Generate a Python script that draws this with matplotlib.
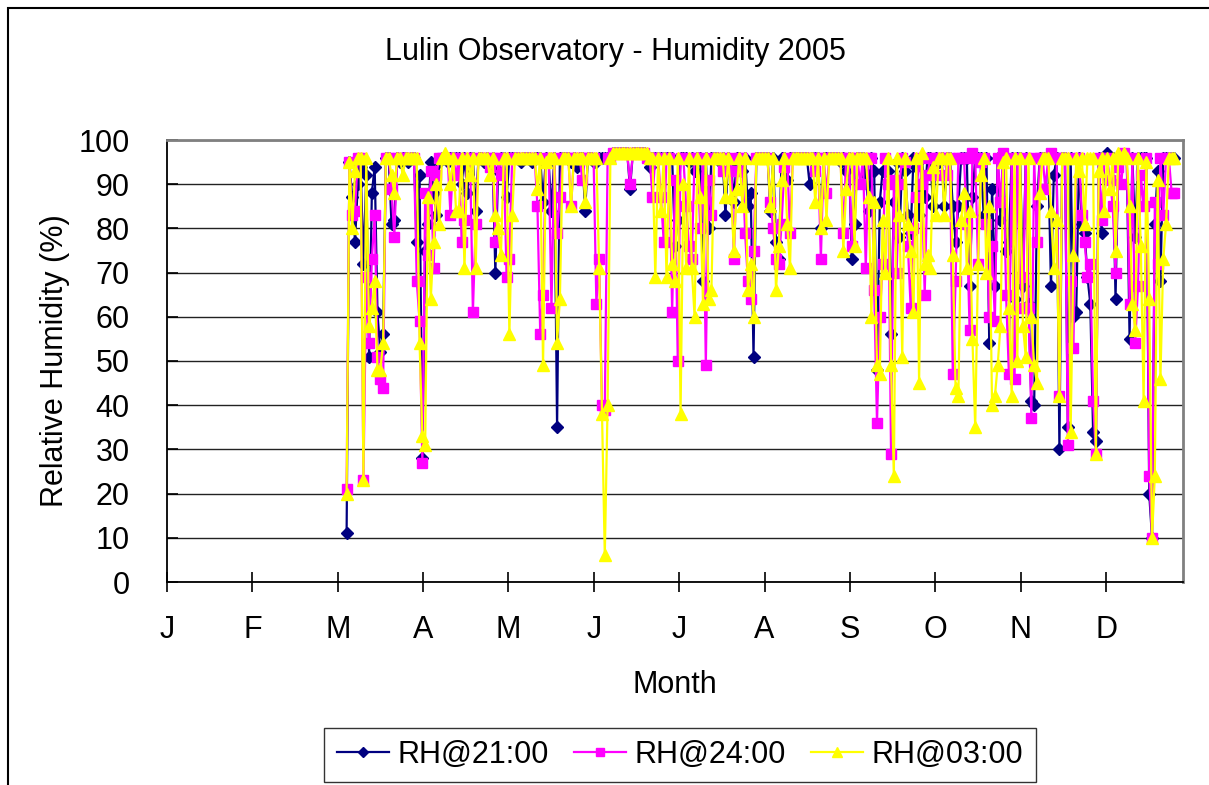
import numpy as np
import matplotlib
matplotlib.use("Agg")
import matplotlib.pyplot as plt
from matplotlib.lines import Line2D

# ---- data (daily values, first day index = 64 on a 0..~362 month-scaled axis) ----
start_day = 64
month_labels = ["J", "F", "M", "A", "M", "J", "J", "A", "S", "O", "N", "D"]

rh_2100 = [
    11, 95, 87, 77, 90, 94, 72, 92, 51, 88,
    94, 61, 52, 56, 96, 96, 81, 82, 96, 95,
    96, 96, 95, 96, 96, 77, 92, 28, 75, 81,
    95, 88, 83, 95, 96, 96, 95, 96, 96, 96,
    96, 90, 96, 88, 96, 96, 84, 96, 96, 95,
    96, 95, 96, 70, 93, 96, 96, 87, 96, 96,
    96, 96, 95, 96, 96, 96, 95, 96, 96, 96,
    86, 96, 95, 84, 96, 35, 96, 96, 96, 96,
    95, 96, 94, 96, 96, 84, 96, 96, 95, 95,
    96, 96, 96, 96, 96, 97, 97, 97, 97, 97,
    97, 89, 97, 97, 97, 97, 97, 96, 94, 96,
    96, 96, 96, 96, 96, 96, 96, 76, 82, 96,
    96, 96, 95, 96, 93, 96, 96, 68, 96, 80,
    96, 96, 96, 95, 96, 83, 96, 95, 86, 96,
    96, 93, 96, 85, 88, 51, 96, 96, 96, 96,
    96, 84, 96, 77, 73, 96, 96, 91, 96, 96,
    96, 96, 96, 96, 96, 90, 96, 96, 96, 80,
    96, 96, 96, 96, 96, 96, 95, 96, 93, 96,
    73, 81, 96, 96, 96, 92, 84, 96, 93, 48,
    86, 93, 93, 93, 56, 86, 95, 78, 96, 93,
    83, 79, 96, 94, 83, 96, 87, 96, 96, 85,
    96, 95, 96, 85, 96, 96, 85, 77, 85, 96,
    96, 96, 67, 87, 96, 96, 96, 83, 96, 54,
    89, 67, 96, 82, 96, 75, 77, 96, 64, 96,
    96, 67, 96, 63, 41, 40, 85, 96, 96, 96,
    96, 67, 92, 96, 30, 96, 96, 35, 96, 60,
    61, 96, 81, 79, 69, 63, 34, 32, 96, 79,
    96, 97, 96, 96, 64, 96, 96, 96, 96, 55,
    96, 78, 96, 96, 96, 96, 20, 10, 81, 93,
    68, 96, 96, 96, 96, 96,
]

rh_2400 = [
    21, 95, 83, 84, 96, 96, 23, 69, 54, 73,
    83, 51, 46, 44, 96, 96, 89, 78, 96, 96,
    96, 96, 96, 96, 96, 68, 59, 27, 88, 74,
    93, 71, 92, 96, 96, 96, 96, 83, 96, 92,
    96, 77, 82, 96, 96, 61, 81, 96, 96, 96,
    96, 94, 96, 77, 96, 92, 96, 69, 73, 96,
    96, 96, 96, 96, 96, 96, 96, 96, 85, 56,
    65, 96, 96, 62, 96, 79, 87, 96, 96, 96,
    85, 96, 96, 96, 91, 96, 96, 96, 96, 63,
    73, 40, 39, 96, 96, 97, 97, 97, 97, 97,
    97, 90, 97, 97, 97, 97, 97, 96, 96, 87,
    96, 96, 87, 77, 96, 96, 61, 91, 50, 96,
    96, 85, 76, 73, 96, 96, 80, 96, 49, 91,
    83, 96, 96, 96, 93, 96, 93, 96, 73, 93,
    96, 96, 79, 68, 64, 75, 96, 96, 96, 96,
    96, 86, 80, 73, 72, 81, 94, 96, 79, 96,
    96, 96, 96, 96, 96, 96, 96, 93, 96, 73,
    96, 88, 96, 96, 96, 96, 96, 79, 96, 96,
    76, 96, 96, 90, 96, 71, 96, 96, 66, 36,
    60, 72, 96, 90, 29, 91, 70, 90, 96, 95,
    76, 62, 80, 87, 96, 90, 65, 92, 96, 96,
    92, 96, 96, 96, 92, 96, 47, 68, 96, 96,
    96, 81, 57, 97, 96, 72, 95, 96, 81, 60,
    76, 59, 96, 86, 97, 65, 47, 96, 46, 96,
    69, 62, 96, 62, 37, 96, 77, 96, 96, 89,
    96, 97, 96, 96, 42, 96, 96, 31, 68, 53,
    96, 96, 83, 77, 69, 72, 41, 29, 96, 82,
    96, 96, 91, 85, 70, 94, 90, 97, 96, 63,
    96, 54, 67, 92, 85, 96, 24, 10, 86, 72,
    96, 83, 96, 96, 88, 88,
]

rh_0300 = [
    20, 95, 80, 93, 96, 96, 23, 96, 58, 62,
    68, 48, 48, 54, 96, 96, 92, 88, 96, 96,
    92, 96, 96, 96, 96, 96, 54, 33, 31, 87,
    64, 77, 90, 81, 96, 97, 96, 90, 96, 84,
    84, 96, 71, 96, 92, 96, 71, 96, 96, 96,
    96, 92, 96, 83, 80, 74, 96, 96, 56, 83,
    96, 96, 96, 96, 96, 96, 96, 96, 89, 96,
    49, 95, 96, 96, 96, 54, 64, 96, 96, 96,
    85, 96, 96, 96, 96, 86, 96, 96, 96, 96,
    71, 38, 6, 40, 96, 97, 97, 97, 97, 97,
    97, 97, 97, 97, 97, 97, 97, 97, 96, 96,
    69, 96, 84, 96, 69, 96, 72, 68, 96, 38,
    90, 71, 96, 71, 60, 96, 87, 63, 96, 64,
    66, 96, 96, 96, 96, 87, 96, 87, 75, 89,
    96, 85, 96, 66, 72, 60, 96, 96, 96, 96,
    96, 85, 96, 66, 76, 91, 96, 81, 71, 96,
    96, 96, 96, 96, 96, 96, 96, 86, 96, 80,
    96, 82, 96, 96, 96, 96, 96, 75, 89, 96,
    96, 76, 96, 96, 96, 96, 87, 60, 86, 49,
    47, 82, 70, 96, 49, 24, 96, 83, 51, 96,
    81, 75, 61, 96, 45, 97, 72, 74, 71, 94,
    83, 96, 96, 83, 96, 96, 74, 44, 42, 82,
    88, 71, 84, 55, 35, 72, 92, 96, 70, 85,
    40, 42, 49, 58, 95, 96, 62, 42, 96, 50,
    96, 58, 51, 96, 60, 49, 45, 88, 96, 96,
    96, 84, 71, 82, 42, 96, 96, 96, 34, 74,
    96, 93, 96, 81, 96, 96, 96, 29, 93, 96,
    84, 96, 89, 96, 75, 97, 96, 97, 96, 85,
    63, 57, 96, 76, 41, 95, 64, 10, 24, 91,
    46, 73, 81, 96, 96, 96,
]

series = [
    ("RH@21:00", rh_2100, "#000080", "D", 6.0),
    ("RH@24:00", rh_2400, "#FF00FF", "s", 6.5),
    ("RH@03:00", rh_0300, "#FFFF00", "^", 8.5),
]

# ---- figure ----
W, H = 1209, 785
fig = plt.figure(figsize=(W / 100, H / 100), dpi=100)
plt.rcParams["font.family"] = ["Liberation Sans", "DejaVu Sans"]
FS = 22

ax = fig.add_axes([167 / W, 1 - 582 / H, (1183 - 167) / W, (582 - 140) / H])

days_per_month = 30.42
for name, vals, col, mk, ms in series:
    x = np.arange(start_day, start_day + len(vals))
    ax.plot(x, vals, color=col, lw=1.6, marker=mk, ms=ms,
            markeredgecolor=col, markerfacecolor=col, label=name, zorder=3)

ax.set_xlim(0, 12 * days_per_month - 3)
ax.set_ylim(0, 100)
ax.set_yticks(np.arange(0, 101, 10))
ax.set_xticks(np.arange(len(month_labels)) * days_per_month)
ax.set_xticklabels(month_labels)
ax.tick_params(axis="y", direction="in", length=8, width=1.2, pad=27, labelsize=FS)
ax.tick_params(axis="x", direction="inout", length=14, width=1.2, pad=17, labelsize=FS)
ax.yaxis.grid(True, color="#222222", lw=1.0)
ax.set_axisbelow(True)
for s in ["left", "bottom"]:
    ax.spines[s].set_color("black")
    ax.spines[s].set_linewidth(1.3)
for s in ["top", "right"]:
    ax.spines[s].set_color("#808080")
    ax.spines[s].set_linewidth(2.0)

ax.set_xlabel("Month", fontsize=FS, labelpad=18)
ax.set_ylabel("Relative Humidity (%)", fontsize=FS, labelpad=6)

fig.text(615 / W, 1 - 52 / H, "Lulin Observatory - Humidity 2005",
         ha="center", va="center", fontsize=FS)

handles = [Line2D([0], [0], color=c, lw=1.6, marker=m, ms=ms * 0.8,
                  markeredgecolor=c, markerfacecolor=c)
           for _, _, c, m, ms in series]
leg = fig.legend(handles, [s[0] for s in series], loc="center",
                 bbox_to_anchor=(680 / W, 1 - 755 / H), ncol=3,
                 fontsize=FS, frameon=True, fancybox=False, shadow=False,
                 handlelength=1.7, handletextpad=0.3, columnspacing=0.8,
                 borderpad=0.4, borderaxespad=0)
leg.get_frame().set_edgecolor("black")
leg.get_frame().set_linewidth(1.0)

# outer chart frame (left and top edges visible)
fig.add_artist(plt.Rectangle((8 / W, -0.05), 1.2, 1 - 8 / H + 0.05,
                             transform=fig.transFigure, fill=False,
                             edgecolor="black", lw=1.5))

fig.savefig("out.png", dpi=100)
